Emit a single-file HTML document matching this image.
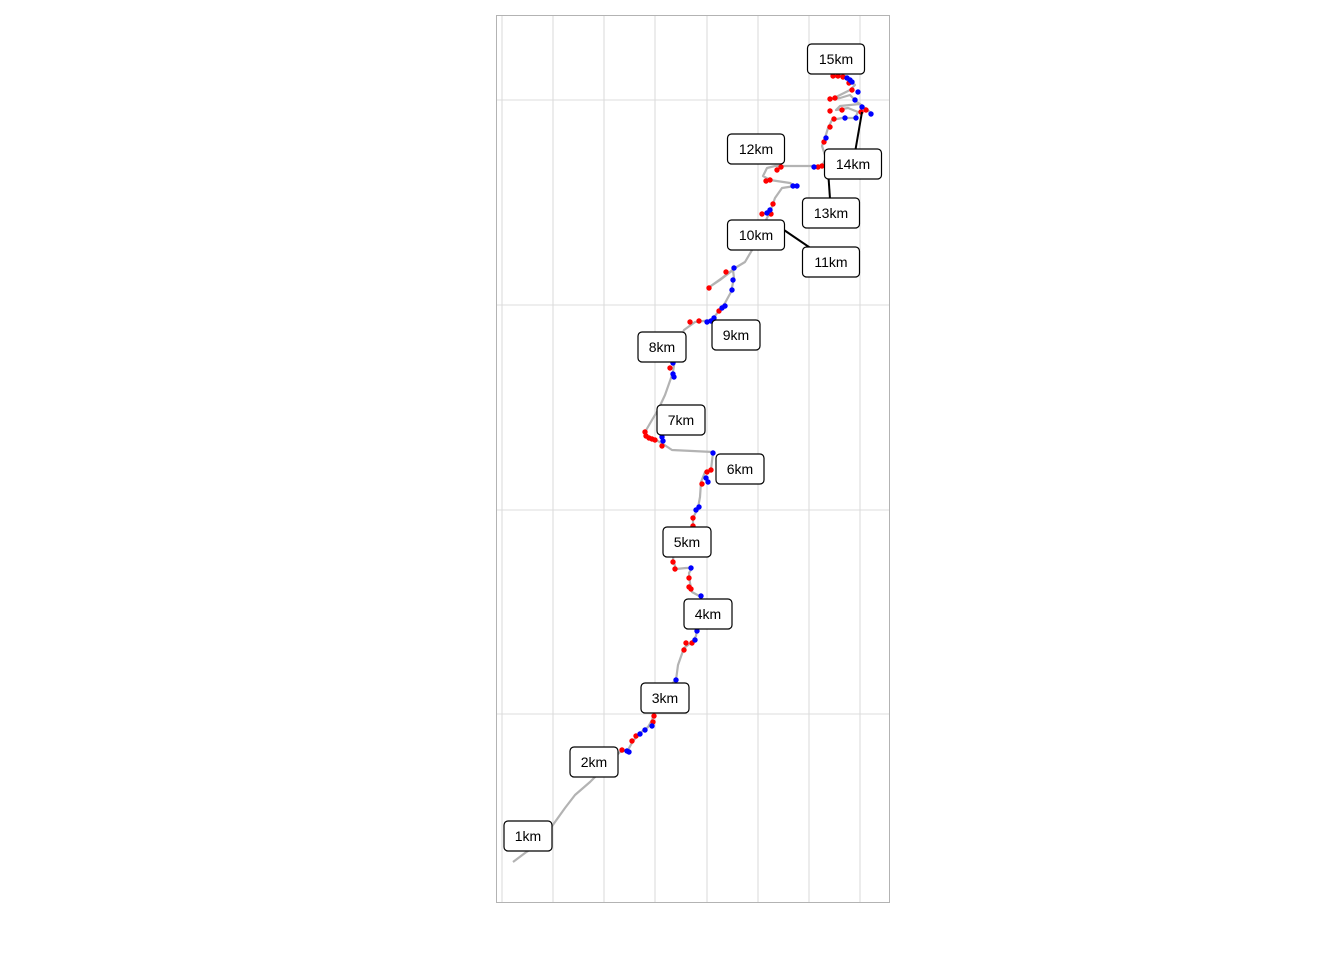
<!DOCTYPE html>
<html><head><meta charset="utf-8"><style>
body{margin:0;background:#fff;}
svg{display:block;font-family:"Liberation Sans",Arial,sans-serif;}
</style></head><body>
<svg id="chart" width="1344" height="960" viewBox="0 0 1344 960" xmlns="http://www.w3.org/2000/svg">
<rect x="0" y="0" width="1344" height="960" fill="#fff"/>
<g id="grid"></g>
<rect x="496.5" y="15.5" width="393" height="887" fill="none" stroke="#b3b3b3" stroke-width="1"/>
<g id="track"></g>
<g id="dots"></g>
<g id="labels"></g>
</svg>
<script>
const xGrid=[6,57,108,159,211,262,313,364];
const yGrid=[188,392,597,802];
const trackE=[17,29,44,59,69,79,94,101,124,132,137,144,152,156,158,159,169,180,182,188,196,200,201,205,205,196,194,193,196,190,180,177,178,188,197,197,202,204,205,209,215,217,176,167,160,152,149,156,162,169,175,177,180,188,199,216,222,229,235,238,237,224,212,226,239,249,259,264,269,274,279,286,299,294,274,267,271,279,304,326,330,326,329,332,336,346,359,362,352,340,344,364,374,370,359,354,344,336,344,354,359,354,349,339,352];
const trackN=[40,49,59,80,94,107,120,127,150,152,161,169,175,182,188,197,212,222,237,254,260,266,274,284,305,310,319,329,334,334,333,342,354,367,372,384,394,405,420,430,432,450,452,458,462,464,470,482,492,507,524,530,550,572,580,582,590,599,610,624,632,622,614,624,634,640,657,666,680,690,704,714,716,719,722,726,734,736,736,736,744,756,764,774,782,784,784,790,794,792,796,798,790,792,802,807,804,803,807,812,817,822,826,825,830];
const redE=[126,136,140,157,158,190,188,196,177,179,193,193,195,197,197,206,211,215,166,149,150,153,156,159,174,194,203,223,213,230,266,275,277,270,274,281,285,322,326,328,334,338,334,346,365,370,334,339,353,356,337,342,347];
const redN=[152,161,166,180,186,259,252,259,340,333,324,315,313,384,376,418,430,432,456,470,466,464,463,462,534,580,581,591,614,630,688,688,698,721,722,732,735,735,736,760,775,783,791,792,790,792,803,804,819,812,826,826,825];
const blueE=[131,133,144,149,156,180,199,201,205,195,200,203,210,212,217,166,167,177,177,178,211,215,218,226,229,236,237,238,271,274,297,301,318,330,349,360,366,375,362,359,351,354,356];
const blueN=[151,150,168,172,176,222,262,271,306,334,392,395,424,420,449,465,461,539,528,525,580,581,584,594,596,612,622,634,689,692,716,716,735,764,784,784,795,788,810,802,824,822,820];
const labelText=["1km","2km","3km","4km","5km","6km","7km","8km","9km","10km","11km","12km","13km","14km","15km"];
const labelE=[32,98,169,212,191,244,185,166,240,260,335,260,335,357,340];
const labelN=[66,140,204,288,360,433,482,555,567,667,640,753,689,738,843];
const leaderKm=["11km","13km","14km"];
const leaderE=[288,332,366];
const leaderN=[672,732,790];

const X0=496,Y0=902;
const sx=v=>X0+v, sy=v=>Y0-v;
const NS="http://www.w3.org/2000/svg";
function mk(tag,attrs,parent){const e=document.createElementNS(NS,tag);for(const k in attrs)e.setAttribute(k,attrs[k]);parent.appendChild(e);return e;}
const grid=document.getElementById('grid');
xGrid.forEach(v=>{const l=mk('line',{x1:sx(v),x2:sx(v),y1:15,y2:902,stroke:'#dcdcdc','stroke-width':1.1},grid);

});
yGrid.forEach(v=>{const l=mk('line',{x1:496,x2:890,y1:sy(v),y2:sy(v),stroke:'#dcdcdc','stroke-width':1.1},grid);

});
const track=document.getElementById('track');
const pl=mk('polyline',{points:trackE.map((e,i)=>sx(e)+','+sy(trackN[i])).join(' '),fill:'none',stroke:'#b3b3b3','stroke-width':2.2,'stroke-linejoin':'round'},track);


const dots=document.getElementById('dots');
redE.forEach((e,i)=>{const c=mk('circle',{cx:sx(e),cy:sy(redN[i]),r:2.7,fill:'#ff0000'},dots);

});
blueE.forEach((e,i)=>{const c=mk('circle',{cx:sx(e),cy:sy(blueN[i]),r:2.7,fill:'#0000ff'},dots);

});
const labels=document.getElementById('labels');
leaderKm.forEach((k,i)=>{const j=labelText.indexOf(k);
const l=mk('line',{x1:sx(leaderE[i]),y1:sy(leaderN[i]),x2:sx(labelE[j]),y2:sy(labelN[j]),stroke:'#000','stroke-width':2},labels);

});
labelText.forEach((t,i)=>{const w=t.length>3?57:48,h=30;const cx=sx(labelE[i]),cy=sy(labelN[i]);
const g=mk('g',{},labels);


mk('rect',{x:cx-w/2,y:cy-h/2,width:w,height:h,rx:4,fill:'#fff',stroke:'#000','stroke-width':1.2},g);
const tx=mk('text',{x:cx,y:cy+5,'text-anchor':'middle','font-size':14,fill:'#000'},g);tx.textContent=t;});
</script>
</body></html>
